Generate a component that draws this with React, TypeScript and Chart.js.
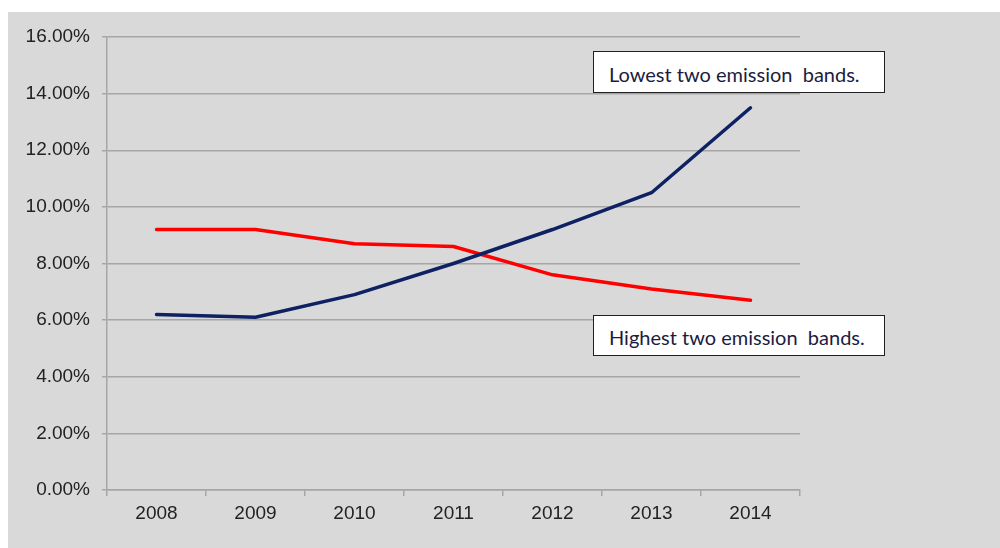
import React, { useEffect, useRef } from "react";
import { Chart, registerables } from "chart.js";

Chart.register(...registerables);

// Years on the category axis
const years = ["2008", "2009", "2010", "2011", "2012", "2013", "2014"];

// Share of new registrations (%) per year
const lowestTwoBands = [6.2, 6.1, 6.9, 8.0, 9.2, 10.5, 13.5];
const highestTwoBands = [9.2, 9.2, 8.7, 8.6, 7.6, 7.1, 6.7];

// Value axis range
const yMin = 0;
const yMax = 16;
const yStep = 2;

const lowestLabel = "Lowest two emission  bands.";
const highestLabel = "Highest two emission  bands.";

const gridColor = "#a6a6a6";
const tickFont = { family: "'Liberation Sans', Arial, sans-serif", size: 19 };

const boxStyle: React.CSSProperties = {
  position: "absolute",
  left: 585,
  width: 292,
  height: 42,
  boxSizing: "border-box",
  background: "#ffffff",
  border: "1px solid #202020",
  paddingLeft: 15,
  paddingTop: 3,
  display: "flex",
  alignItems: "center",
  whiteSpace: "pre",
  fontFamily: "Lato, 'Open Sans', sans-serif",
  fontSize: 20,
  color: "#1c1c40",
};

export default function App() {
  const canvasRef = useRef<HTMLCanvasElement | null>(null);

  useEffect(() => {
    const canvas = canvasRef.current;
    if (!canvas) return;
    const chart = new Chart(canvas, {
      type: "line",
      data: {
        labels: years,
        datasets: [
          {
            label: lowestLabel,
            data: lowestTwoBands,
            borderColor: "#0e2163",
            borderWidth: 3.5,
            pointRadius: 0,
            tension: 0,
            borderJoinStyle: "round",
            borderCapStyle: "round",
          },
          {
            label: highestLabel,
            data: highestTwoBands,
            borderColor: "#ff0000",
            borderWidth: 3.5,
            pointRadius: 0,
            tension: 0,
            borderJoinStyle: "round",
            borderCapStyle: "round",
          },
        ],
      },
      options: {
        responsive: false,
        animation: false,
        devicePixelRatio: 1,
        layout: { padding: { left: 0, right: 200, top: 25, bottom: 0 } },
        plugins: {
          legend: { display: false },
          tooltip: { enabled: false },
        },
        scales: {
          x: {
            offset: true,
            grid: {
              offset: true,
              drawOnChartArea: false,
              drawTicks: true,
              tickLength: 6,
              color: gridColor,
              lineWidth: 1.5,
            },
            border: { display: true, color: gridColor, width: 1.5 },
            ticks: { color: "#222222", font: tickFont, padding: 6, maxRotation: 0 },
            afterFit: (scale: any) => {
              scale.height = 58;
            },
          },
          y: {
            min: yMin,
            max: yMax,
            grid: {
              color: gridColor,
              lineWidth: 1.5,
              drawTicks: true,
              tickLength: 5,
            },
            border: { display: true, color: gridColor, width: 1.5 },
            ticks: {
              stepSize: yStep,
              color: "#222222",
              font: tickFont,
              padding: 12,
              callback: (v: any) => Number(v).toFixed(2) + "%",
            },
            afterFit: (scale: any) => {
              scale.width = 99;
            },
          },
        },
      },
    });
    return () => chart.destroy();
  }, []);

  return (
    <div
      style={{
        position: "fixed",
        left: 8,
        top: 12,
        right: 0,
        bottom: 0,
        background: "#d9d9d9",
        overflow: "hidden",
      }}
    >
      <canvas
        ref={canvasRef}
        width={992}
        height={536}
        style={{ position: "absolute", left: 0, top: 0, width: 992, height: 536 }}
      />
      <div style={{ ...boxStyle, top: 39 }}>{lowestLabel}</div>
      <div style={{ ...boxStyle, top: 303, height: 41 }}>{highestLabel}</div>
    </div>
  );
}
